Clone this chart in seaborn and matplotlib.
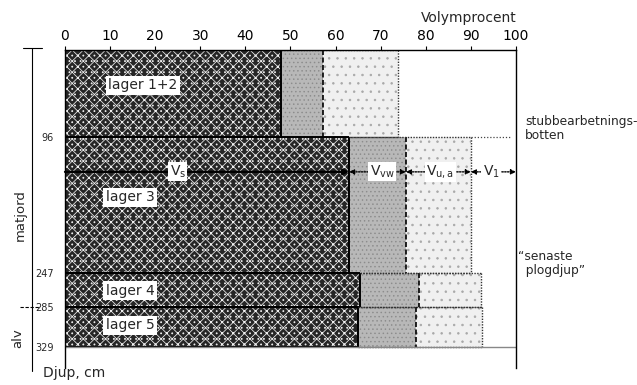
import numpy as np
import pandas as pd
import matplotlib
matplotlib.use("Agg")
import matplotlib.pyplot as plt
from matplotlib.colors import to_rgba
import seaborn as sns

# ---------------- data ----------------
layers = ["lager 1+2", "lager 3", "lager 4", "lager 5"]
depth_top = [0, 96, 247, 285]
depth_bottom = [96, 247, 285, 329]
v_s = [48.0, 63.0, 65.4, 65.0]      # solids (V_s)
v_vw = [9.2, 12.6, 13.2, 12.8]      # water (V_vw)
v_ua = [16.6, 14.4, 13.6, 14.6]     # air in aggregates (V_u,a)
x_ticks = [0, 10, 20, 30, 40, 50, 60, 70, 80, 90, 100]
depth_ticks = [96, 247, 285, 329]
arrow_depth = 135
components = ["Vs", "Vvw", "Vua"]

# ---------------- style ----------------
sns.set_theme(style="white")
plt.rcParams["font.family"] = ["DejaVu Sans"]
plt.rcParams["hatch.linewidth"] = 0.55

fig = plt.figure(figsize=(6.37, 3.85), dpi=100)
ax = fig.add_axes([0.102, 0.045, 0.708, 0.825])

rows = []
for i, name in enumerate(layers):
    mid = (depth_top[i] + depth_bottom[i]) / 2
    for comp, vals in zip(components, [v_s, v_vw, v_ua]):
        rows.append({"depth": mid, "value": vals[i], "comp": comp})
df = pd.DataFrame(rows)

palette = {"Vs": "#262626", "Vvw": "#b8b8b8", "Vua": "#f0f0f0"}
hatch_col = {"Vs": "#f0f0f0", "Vvw": "#8c8c8c", "Vua": "#a8a8a8"}
hatches = {"Vs": "xxx...", "Vvw": "....", "Vua": ".."}
bins = depth_top + [depth_bottom[-1]]

# seaborn stacks the last hue level at the baseline
sns.histplot(data=df, y="depth", weights="value", hue="comp",
             hue_order=components[::-1], palette=palette, bins=bins,
             multiple="stack", element="bars", shrink=1, alpha=1,
             linewidth=0, legend=False, ax=ax)

for p in ax.patches:
    fc = p.get_facecolor()
    for c in components:
        if np.allclose(fc, to_rgba(palette[c]), atol=0.01):
            p.set_hatch(hatches[c])
            p.set_edgecolor(hatch_col[c])
            p.set_linewidth(0)

vs_end = np.array(v_s)
vvw_end = vs_end + np.array(v_vw)
vua_end = vvw_end + np.array(v_ua)

# outlines
for i in range(len(layers)):
    t, b = depth_top[i], depth_bottom[i]
    ax.hlines([t, b], 0, vs_end[i], colors="black", lw=1.4)
    ax.vlines(vs_end[i], t, b, colors="black", lw=1.4)
    ax.vlines(vvw_end[i], t, b, colors="black", lw=1.2, linestyles=(0, (3, 1.5)))
    ax.vlines(vua_end[i], t, b, colors="#333333", lw=1.0, linestyles=(0, (1, 1)))
    ax.hlines([t, b], vs_end[i], vua_end[i], colors="#333333", lw=1.0,
              linestyles=(0, (1, 1)))

ax.hlines(depth_bottom[-1], 0, 100, colors="#888888", lw=1.0)
ax.hlines(depth_top[1], vua_end[1], 99, colors="#444444", lw=0.9,
          linestyles=(0, (1, 1.5)))

# layer labels
label_pos = [(17.3, 39), (14.4, 163), (14.4, 267), (14.4, 305)]
for name, (lx, ly) in zip(layers, label_pos):
    ax.text(lx, ly, name, ha="center", va="center", fontsize=10,
            bbox=dict(facecolor="white", edgecolor="none", pad=1.8))

# arrows
bk = dict(facecolor="white", edgecolor="none", pad=1.0)
ax.annotate("", xy=(vs_end[1], arrow_depth), xytext=(0, arrow_depth),
            arrowprops=dict(arrowstyle="-|>", lw=1.6, color="black",
                            shrinkA=0, shrinkB=0, mutation_scale=8))
segs = [(vs_end[1], vvw_end[1]), (vvw_end[1], vua_end[1]), (vua_end[1], 100)]
for a, b_ in segs:
    ax.annotate("", xy=(a, arrow_depth), xytext=(b_, arrow_depth),
                arrowprops=dict(arrowstyle="<|-|>", lw=1.0, color="black",
                                linestyle=(0, (1, 1)), shrinkA=0, shrinkB=0,
                                mutation_scale=7))
ax.text(25, arrow_depth, r"$\mathregular{V_s}$", ha="center", va="center",
        fontsize=10, bbox=bk)
ax.text(70.3, arrow_depth, r"$\mathregular{V_{vw}}$", ha="center", va="center",
        fontsize=10, bbox=bk)
ax.text(83.2, arrow_depth, r"$\mathregular{V_{u,a}}$", ha="center", va="center",
        fontsize=10, bbox=bk)
ax.text(94.5, arrow_depth, r"$\mathregular{V_1}$", ha="center", va="center",
        fontsize=10, bbox=bk)

# axes setup
ax.set_xlim(0, 100)
ax.set_ylim(352, 0)
ax.xaxis.tick_top()
ax.set_xticks(x_ticks)
ax.set_xticklabels([str(v) for v in x_ticks], fontsize=10)
ax.tick_params(axis="x", length=3, width=0.8, direction="out", pad=2,
               colors="black", top=True, bottom=False)
ax.set_yticks(depth_ticks)
ax.set_yticklabels([str(v) for v in depth_ticks], fontsize=7)
ax.tick_params(axis="y", length=0, pad=8, left=True)
ax.set_xlabel("")
ax.set_ylabel("")
for s in ["left", "top", "right"]:
    ax.spines[s].set_visible(True)
    ax.spines[s].set_color("black")
    ax.spines[s].set_linewidth(1.0)
ax.spines["bottom"].set_visible(False)
ax.grid(False)

fig.text(517 / 637, 1 - 18 / 385, "Volymprocent", ha="right", va="center",
         fontsize=10)
fig.text(43 / 637, 1 - 373 / 385, "Djup, cm", ha="left", va="center",
         fontsize=10)

# right-hand annotations
ax.text(102, 87, "stubbearbetnings-\nbotten", ha="left", va="center",
        fontsize=8.8, clip_on=False, linespacing=1.1)
ax.text(100.5, 236, "\u201csenaste\n  plogdjup\u201d", ha="left", va="center",
        fontsize=8.8, clip_on=False, linespacing=1.1)

# left bracket: matjord / alv
bx = -7.3
ax.plot([bx, bx], [-2, 356], color="black", lw=0.8, clip_on=False)
ax.plot([-9.3, -5.1], [-2, -2], color="black", lw=0.8, clip_on=False)
ax.plot([-10, -5.5], [285, 285], color="black", lw=0.8,
        linestyle=(0, (3, 1.5)), clip_on=False)
ax.text(-10.0, 183, "matjord", rotation=90, ha="center", va="center",
        fontsize=9.5, clip_on=False)
ax.text(-10.4, 319, "alv", rotation=90, ha="center", va="center",
        fontsize=9.5, clip_on=False)

fig.savefig("out.png", dpi=100)
